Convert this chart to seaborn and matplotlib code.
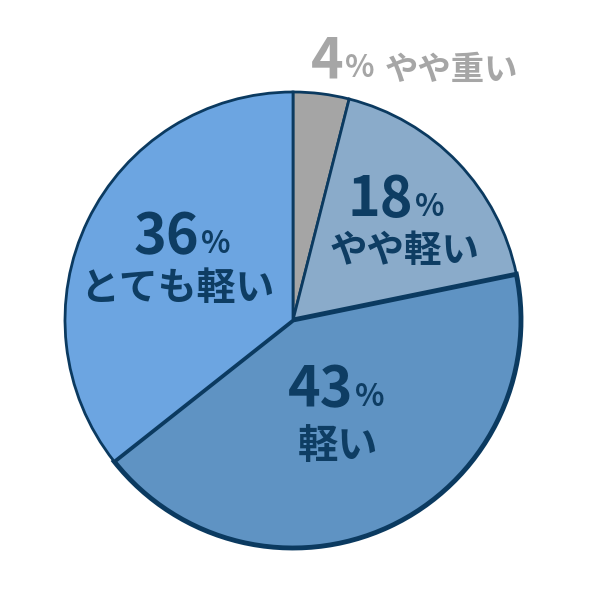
import matplotlib.pyplot as plt
import seaborn as sns

# data
labels = ["やや重い", "やや軽い", "軽い", "とても軽い"]
values = [4, 18, 43, 36]
colors = ["#a5a5a5", "#8aabca", "#5f93c3", "#6ca5e1"]

sns.set_theme(style="white")
plt.rcParams['font.family'] = ['Noto Sans CJK JP', 'DejaVu Sans']

fig = plt.figure(figsize=(6, 6), dpi=100)
ax = fig.add_axes([0, 0, 1, 1])

# pie drawn in flipped y -> counterclock=True gives clockwise on screen
wedges, _ = ax.pie(values, colors=colors, startangle=-90, counterclock=True,
                   center=(293, 320), radius=228, frame=True,
                   wedgeprops=dict(edgecolor="#0b3a60", linewidth=2))
wedges[2].set_linewidth(3.5)
ax.set_xlim(0, 600)
ax.set_ylim(600, 0)
ax.set_aspect("equal")
ax.axis("off")

navy = "#0e3d63"
gray = "#a6a6a6"

def pct(x, y, num, col, big=40, small=22, ys=0):
    ax.text(x, y, str(num), ha="right", va="baseline", fontsize=big,
            fontweight="bold", color=col)
    ax.text(x + 2, y + ys, "%", ha="left", va="baseline", fontsize=small,
            fontweight="bold", color=col)

# 4% label outside
pct(343, 78, values[0], gray, ys=-1)
ax.text(385, 80, labels[0], ha="left", va="baseline", fontsize=24,
        fontweight="bold", color=gray)

pct(413, 216, values[1], navy)
ax.text(405, 262, labels[1], ha="center", va="baseline", fontsize=27,
        fontweight="bold", color=navy)

pct(353, 406, values[2], navy)
ax.text(338, 458, labels[2], ha="center", va="baseline", fontsize=29,
        fontweight="bold", color=navy)

pct(199, 253, values[3], navy)
ax.text(177, 300, labels[3], ha="center", va="baseline", fontsize=28,
        fontweight="bold", color=navy)

fig.savefig("out.png", dpi=100, facecolor="white")
